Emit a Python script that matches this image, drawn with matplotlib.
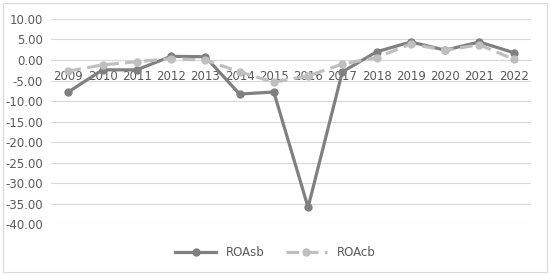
import matplotlib.pyplot as plt
from matplotlib.patches import Rectangle

years = ["2009", "2010", "2011", "2012", "2013", "2014", "2015",
         "2016", "2017", "2018", "2019", "2020", "2021", "2022"]
roa_sb = [-7.8, -2.4, -2.4, 0.9, 0.8, -8.3, -7.8,
          -35.9, -2.9, 2.0, 4.4, 2.4, 4.4, 1.8]
roa_cb = [-2.7, -1.2, -0.4, 0.3, 0.0, -2.9, -5.4,
          -3.9, -1.0, 0.6, 3.9, 2.4, 3.7, 0.2]

fig = plt.figure(figsize=(5.5, 2.75), dpi=100)
fig.patches.append(Rectangle((0.006, 0.011), 0.988, 0.978, transform=fig.transFigure,
                             fill=False, edgecolor="#d9d9d9", linewidth=0.8))
ax = fig.add_axes([0.093, 0.185, 0.872, 0.746])

x = range(len(years))
ax.plot(x, roa_sb, color="#808080", linewidth=2.3, marker="o", markersize=5,
        label="ROAsb", zorder=3)
ax.plot(x, roa_cb, color="#bfbfbf", linewidth=2.3, linestyle=(0, (4, 2)),
        marker="o", markersize=5, label="ROAcb", zorder=4)

ax.set_ylim(-40, 10)
ax.set_xlim(-0.5, len(years) - 0.5)
ax.set_yticks(range(-40, 11, 5))
ax.set_yticklabels([f"{v:.2f}" for v in range(-40, 11, 5)])
ax.set_xticks(list(x))
ax.set_xticklabels(years)
ax.grid(axis="y", color="#d9d9d9", linewidth=0.8)
ax.set_axisbelow(True)

for s in ["top", "right", "left"]:
    ax.spines[s].set_visible(False)
ax.spines["bottom"].set_position(("data", 0))
ax.spines["bottom"].set_color("#d9d9d9")
ax.tick_params(axis="both", length=0, labelsize=8.5, colors="#595959")
ax.tick_params(axis="x", pad=7)
ax.tick_params(axis="y", pad=6)

fig.legend(loc="lower center", bbox_to_anchor=(0.5, 0.02), ncol=2, frameon=False,
           fontsize=8.5, labelcolor="#595959", handlelength=3.5, columnspacing=1.8)

fig.savefig("out.png", dpi=100)
